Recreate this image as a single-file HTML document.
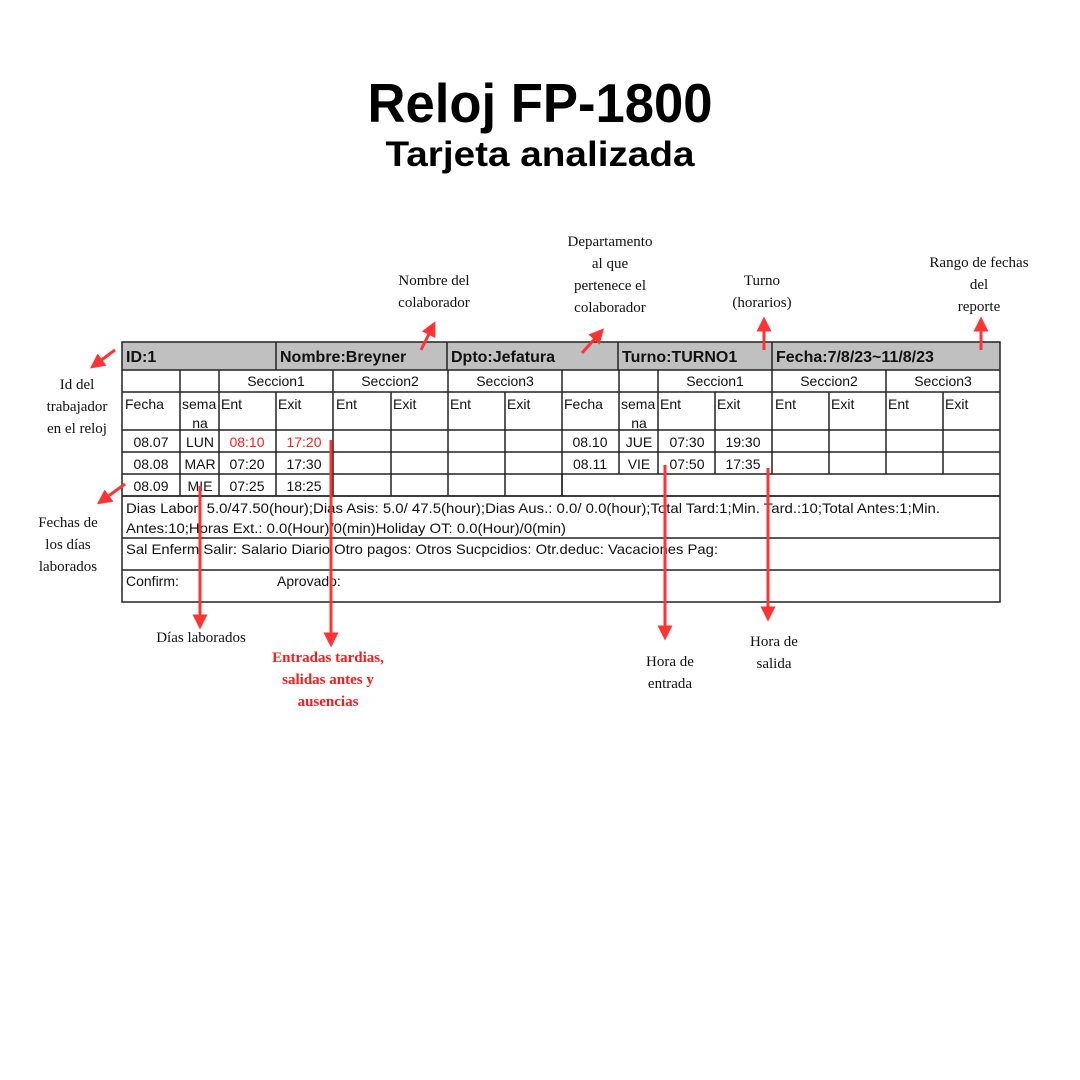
<!DOCTYPE html>
<html><head><meta charset="utf-8"><style>
html,body{margin:0;padding:0;background:#fff;}
svg{display:block}
.t{font-family:"Liberation Sans",sans-serif;font-size:14px;fill:#111}
.b{font-family:"Liberation Sans",sans-serif;font-size:16px;font-weight:bold;fill:#111}
.s{font-family:"Liberation Serif",serif;font-size:15px;fill:#111}
.r{font-family:"Liberation Serif",serif;font-size:15px;font-weight:bold;fill:#ff1a1a}
</style></head><body>
<svg width="1080" height="1080" viewBox="0 0 1080 1080" xmlns="http://www.w3.org/2000/svg">
<defs><marker id="a" markerWidth="5" markerHeight="5" refX="2.5" refY="2.5" orient="auto" markerUnits="strokeWidth"><path d="M0,0 L5,2.5 L0,5 z" fill="#ff3333"/></marker></defs>
<text x="540" y="122" text-anchor="middle" font-family="Liberation Sans,sans-serif" font-weight="bold" font-size="55" textLength="345" lengthAdjust="spacingAndGlyphs">Reloj FP-1800</text>
<text x="540" y="166" text-anchor="middle" font-family="Liberation Sans,sans-serif" font-weight="bold" font-size="35" textLength="309" lengthAdjust="spacingAndGlyphs">Tarjeta analizada</text>

<rect x="122" y="342" width="878" height="28" fill="#c0c0c0"/>
<g stroke="#222" stroke-width="1.5" fill="none">
<rect x="122" y="342" width="878" height="260"/>
<line x1="276" y1="342" x2="276" y2="370"/><line x1="447" y1="342" x2="447" y2="370"/>
<line x1="618" y1="342" x2="618" y2="370"/><line x1="772" y1="342" x2="772" y2="370"/>
<line x1="122" y1="370" x2="1000" y2="370"/>
<line x1="122" y1="392" x2="1000" y2="392"/>
<line x1="122" y1="430" x2="1000" y2="430"/>
<line x1="122" y1="452" x2="1000" y2="452"/>
<line x1="122" y1="474" x2="1000" y2="474"/>
<line x1="122" y1="496" x2="1000" y2="496"/>
<line x1="122" y1="538" x2="1000" y2="538"/>
<line x1="122" y1="570" x2="1000" y2="570"/>
<line x1="180" y1="370" x2="180" y2="496"/><line x1="219" y1="370" x2="219" y2="496"/>
<line x1="276" y1="392" x2="276" y2="496"/><line x1="333" y1="370" x2="333" y2="496"/>
<line x1="391" y1="392" x2="391" y2="496"/><line x1="448" y1="370" x2="448" y2="496"/>
<line x1="505" y1="392" x2="505" y2="496"/><line x1="562" y1="370" x2="562" y2="496"/>
<line x1="619" y1="370" x2="619" y2="474"/><line x1="658" y1="370" x2="658" y2="474"/>
<line x1="715" y1="392" x2="715" y2="474"/><line x1="772" y1="370" x2="772" y2="474"/>
<line x1="829" y1="392" x2="829" y2="474"/><line x1="886" y1="370" x2="886" y2="474"/>
<line x1="943" y1="392" x2="943" y2="474"/>
</g>
<rect x="563" y="475" width="436" height="20" fill="#fff"/>
<line x1="122" y1="496" x2="1000" y2="496" stroke="#222" stroke-width="1.5"/>
<line x1="562" y1="474" x2="562" y2="496" stroke="#222" stroke-width="1.5"/>

<text class="b" x="126" y="362">ID:1</text>
<text class="b" x="280" y="362">Nombre:Breyner</text>
<text class="b" x="451" y="362">Dpto:Jefatura</text>
<text class="b" x="622" y="362">Turno:TURNO1</text>
<text class="b" x="776" y="362">Fecha:7/8/23~11/8/23</text>

<g class="t" text-anchor="middle">
<text x="276" y="386">Seccion1</text><text x="390" y="386">Seccion2</text><text x="505" y="386">Seccion3</text>
<text x="715" y="386">Seccion1</text><text x="829" y="386">Seccion2</text><text x="943" y="386">Seccion3</text>
<text x="200" y="428">na</text><text x="639" y="428">na</text>
<text x="151" y="447">08.07</text><text x="200" y="447">LUN</text><text x="247" y="447" fill="#ff2020">08:10</text><text x="304" y="447" fill="#ff2020">17:20</text>
<text x="151" y="469">08.08</text><text x="200" y="469">MAR</text><text x="247" y="469">07:20</text><text x="304" y="469">17:30</text>
<text x="151" y="491">08.09</text><text x="200" y="491">MIE</text><text x="247" y="491">07:25</text><text x="304" y="491">18:25</text>
<text x="590" y="447">08.10</text><text x="639" y="447">JUE</text><text x="687" y="447">07:30</text><text x="743" y="447">19:30</text>
<text x="590" y="469">08.11</text><text x="639" y="469">VIE</text><text x="687" y="469">07:50</text><text x="743" y="469">17:35</text>
</g>
<g class="t">
<text x="125" y="409">Fecha</text><text x="182" y="409">sema</text><text x="221" y="409">Ent</text><text x="278" y="409">Exit</text>
<text x="336" y="409">Ent</text><text x="393" y="409">Exit</text><text x="450" y="409">Ent</text><text x="507" y="409">Exit</text>
<text x="564" y="409">Fecha</text><text x="621" y="409">sema</text><text x="660" y="409">Ent</text><text x="717" y="409">Exit</text>
<text x="775" y="409">Ent</text><text x="831" y="409">Exit</text><text x="888" y="409">Ent</text><text x="945" y="409">Exit</text>
<text x="126" y="513" textLength="814" lengthAdjust="spacingAndGlyphs">Dias Labor:  5.0/47.50(hour);Dias Asis:  5.0/ 47.5(hour);Dias Aus.:  0.0/  0.0(hour);Total Tard:1;Min. Tard.:10;Total Antes:1;Min.</text>
<text x="126" y="533" textLength="440" lengthAdjust="spacingAndGlyphs">Antes:10;Horas Ext.:  0.0(Hour)/0(min)Holiday OT:  0.0(Hour)/0(min)</text>
<text x="126" y="554" textLength="592" lengthAdjust="spacingAndGlyphs">Sal Enferm  Salir:   Salario Diario  Otro pagos:  Otros Sucpcidios:  Otr.deduc:  Vacaciones Pag:</text>
<text x="126" y="586">Confirm:</text><text x="277" y="586">Aprovado:</text>
</g>

<g stroke="#ff3333" stroke-width="3" fill="none" marker-end="url(#a)">
<line x1="115" y1="350" x2="96" y2="364"/>
<line x1="421" y1="350" x2="432" y2="328"/>
<line x1="582" y1="353" x2="599" y2="334"/>
<line x1="764" y1="350" x2="764" y2="324"/>
<line x1="981" y1="350" x2="981" y2="324"/>
<line x1="125" y1="484" x2="103" y2="500"/>
<line x1="200" y1="486" x2="200" y2="622"/>
<line x1="331" y1="440" x2="331" y2="640"/>
<line x1="665" y1="465" x2="665" y2="633"/>
<line x1="768" y1="468" x2="768" y2="614"/>
</g>

<g class="s" text-anchor="middle">
<text x="434" y="285">Nombre del</text><text x="434" y="307">colaborador</text>
<text x="610" y="246">Departamento</text><text x="610" y="268">al que</text><text x="610" y="290">pertenece el</text><text x="610" y="312">colaborador</text>
<text x="762" y="285">Turno</text><text x="762" y="307">(horarios)</text>
<text x="979" y="267">Rango de fechas</text><text x="979" y="289">del</text><text x="979" y="311">reporte</text>
<text x="77" y="389">Id del</text><text x="77" y="411">trabajador</text><text x="77" y="433">en el reloj</text>
<text x="68" y="527">Fechas de</text><text x="68" y="549">los días</text><text x="68" y="571">laborados</text>
<text x="201" y="642">Días laborados</text>
<text x="670" y="666">Hora de</text><text x="670" y="688">entrada</text>
<text x="774" y="646">Hora de</text><text x="774" y="668">salida</text>
</g>
<g class="r" text-anchor="middle">
<text x="328" y="662">Entradas tardias,</text><text x="328" y="684">salidas antes y</text><text x="328" y="706">ausencias</text>
</g>
</svg>
</body></html>
